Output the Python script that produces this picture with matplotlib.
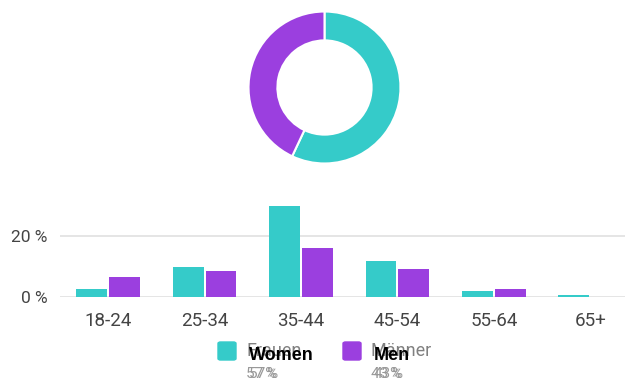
import matplotlib.pyplot as plt
from matplotlib.patches import FancyBboxPatch

plt.rcParams['font.family'] = ['Roboto', 'DejaVu Sans']

# Data
age_groups = ['18-24', '25-34', '35-44', '45-54', '55-64', '65+']
women = [2.6, 9.8, 29.8, 11.8, 2.0, 0.7]
men = [6.6, 8.5, 16.0, 9.2, 2.6, 0.0]
share_labels = ['Frauen', 'Männer']
share_labels_en = ['Women', 'Men']
share = [57, 43]

TEAL = '#35cbc9'
PURPLE = '#9b3fdf'
W, H = 628, 380


def px(x, y):
    # pixel coords (top-left origin) -> figure fraction
    return x / W, 1 - y / H


fig = plt.figure(figsize=(6.28, 3.80), dpi=100)

# Donut
ax_d = fig.add_axes([247 / W, 1 - 165 / H, 155 / W, 155 / H])
ax_d.pie(share, colors=[TEAL, PURPLE], startangle=90, counterclock=False,
         radius=1, wedgeprops=dict(width=0.38, edgecolor='white', linewidth=1.5))
ax_d.set_xlim(-1.02, 1.02)
ax_d.set_ylim(-1.02, 1.02)
ax_d.set_aspect('equal')
ax_d.axis('off')

# Bars
ax = fig.add_axes([60 / W, 1 - 297 / H, 565 / W, 91.5 / H])
x = list(range(len(age_groups)))
bw = 0.32
ax.bar([i - bw / 2 - 0.01 for i in x], women, width=bw, color=TEAL, zorder=3)
ax.bar([i + bw / 2 + 0.01 for i in x], men, width=bw, color=PURPLE, zorder=3)
ax.set_xlim(-0.5, 5.36)
ax.set_ylim(0, 30)
ax.set_yticks([0, 20])
ax.set_yticklabels(['0 %', '20 %'], fontsize=12.5, color='#444444')
ax.set_xticks(x)
ax.set_xticklabels(age_groups, fontsize=13.5, color='#444444')
ax.tick_params(length=0, pad=11)
ax.tick_params(axis='y', pad=9)
ax.grid(axis='y', color='#e0e0e0', linewidth=1.2, zorder=0)
for s in ax.spines.values():
    s.set_visible(False)

# Legend (original German labels with English overlay)
legend_items = [(218, TEAL, 0), (343, PURPLE, 1)]
for lx, col, i in legend_items:
    fx, fy = px(lx, 360)
    fig.patches.append(FancyBboxPatch((fx, fy), 18 / W, 18 / H,
                                      boxstyle='round,pad=0,rounding_size=0.004',
                                      transform=fig.transFigure, color=col))
    tx, ty = px(lx + 28, 351)
    fig.text(tx, ty, share_labels[i], fontsize=13, color='#808080', va='center')
    fig.text(tx + 3 / W, ty - 4 / H, share_labels_en[i], fontsize=13,
             fontweight='bold', color='black', va='center',
             family=['Liberation Sans', 'DejaVu Sans'])
    vx, vy = px(lx + 28, 374)
    fig.text(vx, vy, f'{share[i]} %', fontsize=11, color='#999999', va='center')
    fig.text(vx + 3 / W, vy, f'{share[i]}%', fontsize=11, color='#999999', va='center')

fig.savefig('out.png', dpi=100)
